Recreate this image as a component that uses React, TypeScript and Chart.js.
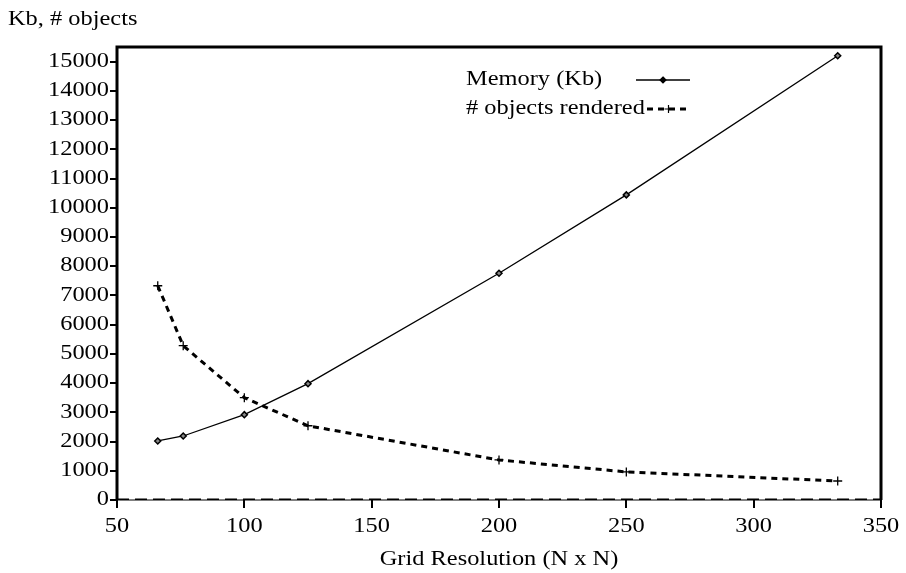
import React, { useEffect, useRef } from "react";
import { Chart, registerables } from "chart.js";

Chart.register(...registerables);

const xValues = [66, 76, 100, 125, 200, 250, 333];
const memoryKb = [2020, 2190, 2920, 3980, 7760, 10440, 15200];
const objectsRendered = [7330, 5280, 3500, 2540, 1370, 960, 650];
const zeroLine = [0, 0];
const zeroX = [50, 350];
const xTickValues = [50, 100, 150, 200, 250, 300, 350];
const yTickValues = [0, 1000, 2000, 3000, 4000, 5000, 6000, 7000, 8000, 9000, 10000, 11000, 12000, 13000, 14000, 15000];
const seriesNames = ["Memory (Kb)", "# objects rendered"];
const yAxisTitle = "Kb, # objects";
const xAxisTitle = "Grid Resolution (N x N)";

const FONT = "'Liberation Serif', 'Times New Roman', serif";
const FS = 20;
const STRETCH = 1.22;

function stretchedText(ctx: any, text: string, x: number, y: number, align: "left" | "right" | "center") {
  ctx.save();
  ctx.font = `${FS}px ${FONT}`;
  ctx.textBaseline = "middle";
  ctx.textAlign = "left";
  const w = ctx.measureText(text).width * STRETCH;
  let x0 = x;
  if (align === "right") x0 = x - w;
  else if (align === "center") x0 = x - w / 2;
  ctx.translate(x0, y);
  ctx.scale(STRETCH, 1);
  ctx.fillStyle = "#000";
  ctx.fillText(text, 0, 0);
  ctx.restore();
}

const framePlugin = {
  id: "frame",
  afterDatasetsDraw(chart: any) {
    const { ctx, chartArea: a } = chart;
    ctx.save();
    ctx.strokeStyle = "#000";
    ctx.lineWidth = 3;
    ctx.beginPath();
    ctx.moveTo(a.left, a.bottom);
    ctx.lineTo(a.left, a.top);
    ctx.lineTo(a.right, a.top);
    ctx.lineTo(a.right, a.bottom);
    ctx.stroke();
    ctx.lineWidth = 1;
    ctx.beginPath();
    ctx.moveTo(a.left, a.bottom);
    ctx.lineTo(a.right, a.bottom);
    ctx.stroke();

    // tick labels through the scales
    const xs = chart.scales.x;
    const ys = chart.scales.y;
    xTickValues.forEach((v) => {
      stretchedText(ctx, String(v), xs.getPixelForValue(v), a.bottom + 27, "center");
    });
    yTickValues.forEach((v) => {
      stretchedText(ctx, String(v), a.left - 8, ys.getPixelForValue(v), "right");
    });
    // titles
    stretchedText(ctx, yAxisTitle, 8, 20, "left");
    stretchedText(ctx, xAxisTitle, (a.left + a.right) / 2, 560, "center");

    // legend
    const rows = [
      { text: seriesNames[0], y: 80, x0: 636, x1: 690, ds: 0 },
      { text: seriesNames[1], y: 109, x0: 647, x1: 690, ds: 1 },
    ];
    rows.forEach((r) => {
      stretchedText(ctx, r.text, 466, r.y, "left");
      const d = chart.data.datasets[r.ds];
      ctx.save();
      ctx.strokeStyle = "#000";
      ctx.lineWidth = d.borderWidth;
      ctx.setLineDash(d.borderDash || []);
      ctx.beginPath();
      ctx.moveTo(r.x0, r.y);
      ctx.lineTo(r.x1, r.y);
      ctx.stroke();
      ctx.restore();
      const mx = (r.x0 + r.x1) / 2;
      ctx.lineWidth = 1.2;
      ctx.strokeStyle = "#000";
      ctx.beginPath();
      if (r.ds === 0) {
        ctx.moveTo(mx, r.y - 3);
        ctx.lineTo(mx + 3, r.y);
        ctx.lineTo(mx, r.y + 3);
        ctx.lineTo(mx - 3, r.y);
        ctx.closePath();
        ctx.fillStyle = "#000";
        ctx.fill();
        ctx.stroke();
      } else {
        ctx.moveTo(mx - 4, r.y);
        ctx.lineTo(mx + 4, r.y);
        ctx.moveTo(mx, r.y - 4);
        ctx.lineTo(mx, r.y + 4);
        ctx.stroke();
      }
    });
    ctx.restore();
  },
};

export default function App() {
  const ref = useRef<HTMLCanvasElement | null>(null);
  useEffect(() => {
    document.body.style.margin = "0";
    const canvas = ref.current!;
    const chart = new Chart(canvas, {
      type: "line",
      data: {
        datasets: [
          {
            label: seriesNames[0],
            data: xValues.map((x, i) => ({ x, y: memoryKb[i] })),
            borderColor: "#000",
            backgroundColor: "#fff",
            borderWidth: 1.3,
            pointStyle: "rectRot",
            pointRadius: 3,
            pointBorderWidth: 1.5,
            pointBorderColor: "#000",
            pointBackgroundColor: "#888",
            tension: 0,
          },
          {
            label: seriesNames[1],
            data: xValues.map((x, i) => ({ x, y: objectsRendered[i] })),
            borderColor: "#000",
            borderWidth: 3,
            borderDash: [6, 5],
            pointStyle: "cross",
            pointRadius: 4.5,
            pointBorderWidth: 1.3,
            pointBorderColor: "#000",
            tension: 0,
          },
          {
            label: "zero",
            data: zeroX.map((x, i) => ({ x, y: zeroLine[i] })),
            borderColor: "#000",
            borderWidth: 3,
            borderDash: [12, 6],
            pointRadius: 0,
          },
        ],
      },
      options: {
        responsive: false,
        animation: false,
        layout: { padding: { left: 0, top: 47, right: 25, bottom: 0 } },
        plugins: { legend: { display: false }, tooltip: { enabled: false } },
        scales: {
          x: {
            type: "linear",
            min: 50,
            max: 350,
            afterBuildTicks: (s: any) => {
              s.ticks = xTickValues.map((v) => ({ value: v }));
            },
            afterFit: (s: any) => {
              s.height = 73;
            },
            grid: { drawOnChartArea: false, drawTicks: true, tickLength: 8, color: "#000", lineWidth: 2 },
            border: { display: false },
            ticks: { display: false },
          },
          y: {
            type: "linear",
            min: 0,
            max: 15500,
            afterBuildTicks: (s: any) => {
              s.ticks = yTickValues.map((v) => ({ value: v }));
            },
            afterFit: (s: any) => {
              s.width = 117;
            },
            grid: { drawOnChartArea: false, drawTicks: true, tickLength: 7, color: "#000", lineWidth: 2 },
            border: { display: false },
            ticks: { display: false },
          },
        },
      },
      plugins: [framePlugin],
    });
    return () => chart.destroy();
  }, []);
  return (
    <div style={{ width: 906, height: 573 }}>
      <canvas ref={ref} width={906} height={573} />
    </div>
  );
}
